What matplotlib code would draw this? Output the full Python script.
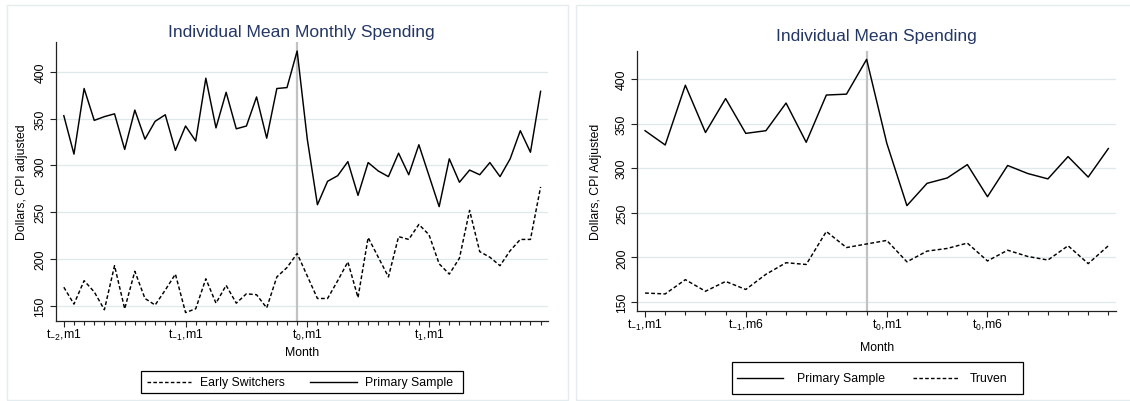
import matplotlib
matplotlib.use("Agg")
import matplotlib.pyplot as plt
from matplotlib.lines import Line2D
from matplotlib.patches import Rectangle

plt.rcParams['font.family'] = ['Liberation Sans', 'DejaVu Sans']
plt.rcParams['mathtext.fontset'] = 'custom'
plt.rcParams['mathtext.rm'] = 'Liberation Sans'
plt.rcParams['mathtext.default'] = 'regular'

# Monthly series, t_-2 m1 .. t_1 m12 (48 months)
primary_sample = [353, 312, 382, 348, 352, 355, 317, 359, 328, 347, 354, 316,
                  342, 326, 393, 340, 378, 339, 342, 373, 329, 382, 383, 422,
                  328, 258, 283, 289, 304, 268, 303, 294, 288, 313, 290, 322,
                  289, 256, 307, 282, 295, 290, 303, 288, 307, 337, 314, 379]
early_switchers = [170, 152, 177, 165, 146, 193, 147, 187, 158, 151, 167, 184,
                   143, 147, 179, 153, 172, 153, 163, 162, 148, 181, 191, 206,
                   182, 158, 158, 177, 197, 159, 223, 202, 181, 224, 221, 237,
                   226, 195, 184, 201, 252, 208, 202, 193, 209, 221, 221, 277]
# t_-1 m1 .. t_0 m12 (24 months)
truven = [160, 159, 175, 162, 173, 164, 181, 194, 192, 229, 211, 215,
          219, 195, 207, 210, 216, 196, 208, 201, 197, 213, 193, 213]

left_ticks = [0, 12, 24, 36]
left_ticklabels = [r"t$_{-2}$,m1", r"t$_{-1}$,m1", r"t$_{0}$,m1", r"t$_{1}$,m1"]
right_ticks = [0, 5, 12, 17]
right_ticklabels = [r"t$_{-1}$,m1", r"t$_{-1}$,m6", r"t$_{0}$,m1", r"t$_{0}$,m6"]
y_ticks = [150, 200, 250, 300, 350, 400]

W, H = 1130, 402
fig = plt.figure(figsize=(W / 100, H / 100), dpi=100)
fig.patch.set_facecolor('white')

TITLE_COLOR = '#243764'
GRID_COLOR = '#dfe8eb'
FRAME_COLOR = '#e4ecef'
VLINE_COLOR = '#c2c2c2'
FS = 8.8


def fx(x):
    return x / W


def fy(y):
    return 1 - y / H


def axes_px(l, t, r, b):
    return fig.add_axes([fx(l), fy(b), (r - l) / W, (b - t) / H])


def style_axes(ax, n, ticks, labels, xlim, ylim):
    ax.set_xlim(*xlim)
    ax.set_ylim(*ylim)
    for s in ('top', 'right'):
        ax.spines[s].set_visible(False)
    for s in ('left', 'bottom'):
        ax.spines[s].set_color('#222222')
        ax.spines[s].set_linewidth(0.9)
    ax.set_yticks(y_ticks)
    ax.set_yticklabels([str(v) for v in y_ticks], fontsize=FS, rotation=90, va='center')
    ax.set_xticks(ticks)
    ax.set_xticklabels(labels, fontsize=FS)
    ax.set_xticks(range(n), minor=True)
    ax.tick_params(axis='x', which='major', length=4.5, width=0.8, pad=0.3, color='#222222')
    ax.tick_params(axis='x', which='minor', length=3, width=0.8, color='#222222')
    ax.tick_params(axis='y', length=4, width=0.8, pad=2.5, color='#222222')
    for y in y_ticks:
        ax.axhline(y, color=GRID_COLOR, lw=0.9, zorder=0)


def panel_frame(l, t, r, b):
    fig.patches.append(Rectangle((fx(l), fy(b)), (r - l) / W, (b - t) / H,
                                 transform=fig.transFigure, fill=False,
                                 edgecolor=FRAME_COLOR, lw=1.0))


def legend_box(l, t, r, b, entries):
    fig.patches.append(Rectangle((fx(l), fy(b)), (r - l) / W, (b - t) / H,
                                 transform=fig.transFigure, fill=False,
                                 edgecolor='black', lw=0.9))
    yc = (t + b) / 2
    for x0, x1, ls, tx, label in entries:
        fig.add_artist(Line2D([fx(x0), fx(x1)], [fy(yc), fy(yc)],
                              transform=fig.transFigure, color='black',
                              lw=1.0, linestyle=ls))
        fig.text(fx(tx), fy(yc), label, fontsize=FS, ha='left', va='center')


DASH = (0, (2.6, 1.6))

# Left panel: monthly spending
panel_frame(6.7, 5.7, 568.3, 401)
axL = axes_px(55.5, 43.3, 547.7, 321.7)
months_L = list(range(len(primary_sample)))
style_axes(axL, len(primary_sample), left_ticks, left_ticklabels, (-0.82, 47.7), (134.3, 431.3))
axL.axvline(23, color=VLINE_COLOR, lw=1.6, zorder=1)
axL.plot(months_L, early_switchers, color='black', lw=1.05, linestyle=DASH, zorder=3)
axL.plot(months_L, primary_sample, color='black', lw=1.05, zorder=3)
fig.text(fx(301.6), fy(32.5), "Individual Mean Monthly Spending", fontsize=12.6,
         color=TITLE_COLOR, ha='center', va='center')
fig.text(fx(22), fy(182.5), "Dollars, CPI adjusted", fontsize=FS, rotation=90,
         ha='center', va='center')
fig.text(fx(301.6), fy(353), "Month", fontsize=FS, ha='center', va='center')
legend_box(140.5, 372.3, 463, 394.3,
           [(146.5, 190.5, DASH, 200, "Early Switchers"),
            (310, 356.7, '-', 365, "Primary Sample")])

# Right panel: spending vs. Truven benchmark
panel_frame(576, 5.7, 1135, 401)
axR = axes_px(637, 51.7, 1116.4, 311.7)
primary_window = primary_sample[12:36]
months_R = list(range(len(truven)))
style_axes(axR, len(truven), right_ticks, right_ticklabels, (-0.4, 23.4), (140.2, 431.7))
axR.axvline(11, color=VLINE_COLOR, lw=1.6, zorder=1)
axR.plot(months_R, primary_window, color='black', lw=1.05, zorder=3)
axR.plot(months_R, truven, color='black', lw=1.05, linestyle=DASH, zorder=3)
fig.text(fx(876.7), fy(36.7), "Individual Mean Spending", fontsize=12.6,
         color=TITLE_COLOR, ha='center', va='center')
fig.text(fx(595.6), fy(181.7), "Dollars, CPI Adjusted", fontsize=FS, rotation=90,
         ha='center', va='center')
fig.text(fx(876.7), fy(348), "Month", fontsize=FS, ha='center', va='center')
legend_box(731.7, 362.7, 1022.7, 394.5,
           [(736.7, 783.3, '-', 796.7, "Primary Sample"),
            (913.3, 959.3, DASH, 970, "Truven")])

fig.savefig("out.png", dpi=100, facecolor='white')
